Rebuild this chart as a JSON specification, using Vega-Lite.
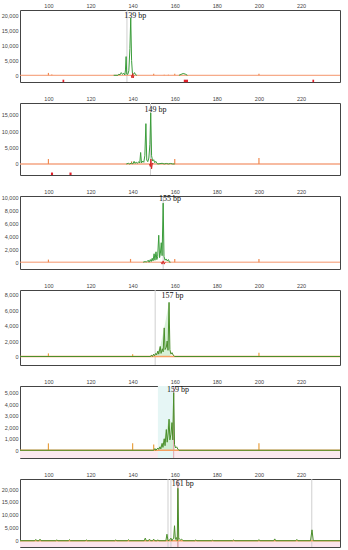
{
"$schema": "https://vega.github.io/schema/vega-lite/v6.json",
"background": "white",
"padding": {"top": 2, "left": 0, "right": 2, "bottom": 2},
"spacing": 12,
"datasets": {
"trace": [
{"p":1,"s":1,"x":131,"y":0},{"p":1,"s":1,"x":133,"y":0},{"p":1,"s":1,"x":133.5,"y":400},{"p":1,"s":1,"x":134,"y":150},{"p":1,"s":1,"x":134.6,"y":900},{"p":1,"s":1,"x":135.2,"y":300},{"p":1,"s":1,"x":135.8,"y":700},{"p":1,"s":1,"x":136.3,"y":100},{"p":1,"s":1,"x":136.6,"y":1800},{"p":1,"s":1,"x":136.9,"y":6300},{"p":1,"s":1,"x":137.2,"y":400},{"p":1,"s":1,"x":137.7,"y":300},{"p":1,"s":1,"x":138.2,"y":1500},{"p":1,"s":1,"x":138.7,"y":9000},{"p":1,"s":1,"x":139.1,"y":19300},{"p":1,"s":1,"x":139.5,"y":5000},{"p":1,"s":1,"x":139.9,"y":700},{"p":1,"s":1,"x":140.4,"y":300},{"p":1,"s":1,"x":140.9,"y":900},{"p":1,"s":1,"x":141.4,"y":200},{"p":1,"s":1,"x":142,"y":0},
{"p":1,"s":2,"x":162,"y":0},{"p":1,"s":2,"x":163,"y":300},{"p":1,"s":2,"x":164,"y":600},{"p":1,"s":2,"x":165,"y":400},{"p":1,"s":2,"x":166,"y":0},
{"p":2,"x":137,"y":0},{"p":2,"x":138,"y":200},{"p":2,"x":138.5,"y":0},{"p":2,"x":139.6,"y":300},{"p":2,"x":140.1,"y":0},{"p":2,"x":140.7,"y":800},{"p":2,"x":141.1,"y":200},{"p":2,"x":141.7,"y":500},{"p":2,"x":142.3,"y":200},{"p":2,"x":142.9,"y":700},{"p":2,"x":143.4,"y":300},{"p":2,"x":143.8,"y":3500},{"p":2,"x":144.2,"y":300},{"p":2,"x":144.8,"y":900},{"p":2,"x":145.3,"y":500},{"p":2,"x":145.8,"y":2500},{"p":2,"x":146.3,"y":12300},{"p":2,"x":146.7,"y":1200},{"p":2,"x":147.2,"y":700},{"p":2,"x":147.7,"y":1800},{"p":2,"x":148.2,"y":6000},{"p":2,"x":148.6,"y":15600},{"p":2,"x":149.0,"y":2500},{"p":2,"x":149.5,"y":900},{"p":2,"x":150.0,"y":1300},{"p":2,"x":150.5,"y":400},{"p":2,"x":151.0,"y":800},{"p":2,"x":151.5,"y":200},{"p":2,"x":152,"y":0},{"p":2,"x":154,"y":200},{"p":2,"x":155,"y":0},{"p":2,"x":156,"y":150},{"p":2,"x":157,"y":0},{"p":2,"x":158,"y":150},{"p":2,"x":159,"y":0},{"p":2,"x":160,"y":0},
{"p":3,"x":145,"y":0},{"p":3,"x":146,"y":100},{"p":3,"x":146.5,"y":0},{"p":3,"x":147.4,"y":300},{"p":3,"x":147.8,"y":0},{"p":3,"x":148.4,"y":400},{"p":3,"x":148.8,"y":100},{"p":3,"x":149.3,"y":600},{"p":3,"x":149.7,"y":200},{"p":3,"x":150.2,"y":1300},{"p":3,"x":150.6,"y":300},{"p":3,"x":151.1,"y":1600},{"p":3,"x":151.5,"y":400},{"p":3,"x":151.9,"y":900},{"p":3,"x":152.4,"y":4150},{"p":3,"x":152.8,"y":700},{"p":3,"x":153.2,"y":1400},{"p":3,"x":153.6,"y":3000},{"p":3,"x":154.0,"y":1000},{"p":3,"x":154.5,"y":9100},{"p":3,"x":154.9,"y":900},{"p":3,"x":155.4,"y":300},{"p":3,"x":155.9,"y":500},{"p":3,"x":156.4,"y":200},{"p":3,"x":157.0,"y":400},{"p":3,"x":157.5,"y":0},{"p":3,"x":158,"y":0},
{"p":4,"x":86.5,"y":0},{"p":4,"x":148.5,"y":0},{"p":4,"x":149,"y":200},{"p":4,"x":149.4,"y":0},{"p":4,"x":150,"y":300},{"p":4,"x":150.4,"y":100},{"p":4,"x":151,"y":400},{"p":4,"x":151.4,"y":200},{"p":4,"x":152,"y":700},{"p":4,"x":152.4,"y":300},{"p":4,"x":153.1,"y":1300},{"p":4,"x":153.5,"y":400},{"p":4,"x":154.1,"y":1000},{"p":4,"x":154.5,"y":600},{"p":4,"x":155,"y":3700},{"p":4,"x":155.4,"y":900},{"p":4,"x":156,"y":1200},{"p":4,"x":156.4,"y":2000},{"p":4,"x":156.8,"y":800},{"p":4,"x":157.3,"y":7000},{"p":4,"x":157.7,"y":900},{"p":4,"x":158.2,"y":300},{"p":4,"x":158.7,"y":500},{"p":4,"x":159.2,"y":200},{"p":4,"x":160,"y":0},{"p":4,"x":238.5,"y":0},
{"p":5,"x":86.5,"y":0},{"p":5,"x":150,"y":0},{"p":5,"x":150.6,"y":150},{"p":5,"x":151,"y":0},{"p":5,"x":152,"y":200},{"p":5,"x":152.4,"y":80},{"p":5,"x":153,"y":300},{"p":5,"x":153.4,"y":120},{"p":5,"x":154,"y":600},{"p":5,"x":154.4,"y":250},{"p":5,"x":155,"y":1000},{"p":5,"x":155.4,"y":400},{"p":5,"x":156,"y":1800},{"p":5,"x":156.4,"y":700},{"p":5,"x":156.9,"y":1500},{"p":5,"x":157.3,"y":2700},{"p":5,"x":157.7,"y":900},{"p":5,"x":158.2,"y":1400},{"p":5,"x":158.7,"y":2400},{"p":5,"x":159.1,"y":900},{"p":5,"x":159.5,"y":5000},{"p":5,"x":159.9,"y":500},{"p":5,"x":160.4,"y":200},{"p":5,"x":160.9,"y":300},{"p":5,"x":161.5,"y":100},{"p":5,"x":162,"y":0},{"p":5,"x":238.5,"y":0},
{"p":6,"x":86.5,"y":0},{"p":6,"x":93.5,"y":0},{"p":6,"x":94,"y":500},{"p":6,"x":94.5,"y":0},{"p":6,"x":95.5,"y":0},{"p":6,"x":96,"y":600},{"p":6,"x":96.5,"y":0},{"p":6,"x":103.5,"y":0},{"p":6,"x":104,"y":300},{"p":6,"x":104.5,"y":0},{"p":6,"x":109.5,"y":0},{"p":6,"x":110,"y":400},{"p":6,"x":110.5,"y":0},{"p":6,"x":117.5,"y":0},{"p":6,"x":118,"y":300},{"p":6,"x":118.5,"y":0},{"p":6,"x":131.5,"y":0},{"p":6,"x":132,"y":300},{"p":6,"x":132.5,"y":0},{"p":6,"x":137.5,"y":0},{"p":6,"x":138,"y":400},{"p":6,"x":138.5,"y":0},{"p":6,"x":145.5,"y":0},{"p":6,"x":146,"y":1000},{"p":6,"x":146.5,"y":0},{"p":6,"x":147.5,"y":0},{"p":6,"x":148,"y":600},{"p":6,"x":148.5,"y":0},{"p":6,"x":149.5,"y":0},{"p":6,"x":150,"y":600},{"p":6,"x":150.5,"y":0},{"p":6,"x":151.5,"y":0},{"p":6,"x":152,"y":300},{"p":6,"x":152.5,"y":0},{"p":6,"x":155.8,"y":0},{"p":6,"x":156.3,"y":2500},{"p":6,"x":156.8,"y":0},{"p":6,"x":157.5,"y":200},{"p":6,"x":158.2,"y":1000},{"p":6,"x":158.6,"y":0},{"p":6,"x":159.5,"y":1000},{"p":6,"x":159.9,"y":5800},{"p":6,"x":160.3,"y":500},{"p":6,"x":160.8,"y":1200},{"p":6,"x":161.2,"y":0},{"p":6,"x":161.5,"y":20300},{"p":6,"x":161.9,"y":500},{"p":6,"x":162.3,"y":700},{"p":6,"x":162.8,"y":300},{"p":6,"x":163.3,"y":600},{"p":6,"x":164,"y":0},{"p":6,"x":169.5,"y":0},{"p":6,"x":170,"y":300},{"p":6,"x":170.5,"y":0},{"p":6,"x":177.5,"y":0},{"p":6,"x":178,"y":200},{"p":6,"x":178.5,"y":0},{"p":6,"x":187.5,"y":0},{"p":6,"x":188,"y":300},{"p":6,"x":188.5,"y":0},{"p":6,"x":199.5,"y":0},{"p":6,"x":200,"y":400},{"p":6,"x":200.5,"y":0},{"p":6,"x":207,"y":0},{"p":6,"x":207.5,"y":700},{"p":6,"x":208,"y":0},{"p":6,"x":217.5,"y":0},{"p":6,"x":218,"y":500},{"p":6,"x":218.5,"y":0},{"p":6,"x":224.5,"y":0},{"p":6,"x":225.2,"y":4200},{"p":6,"x":225.8,"y":0},{"p":6,"x":238.5,"y":0}
],
"envelope": [
{"p":4,"x":150.3,"y":0},{"p":4,"x":151,"y":400},{"p":4,"x":152,"y":700},{"p":4,"x":153.1,"y":1300},{"p":4,"x":155,"y":3700},{"p":4,"x":157.3,"y":7000},{"p":4,"x":157.8,"y":0},
{"p":5,"x":151.5,"y":0},{"p":5,"x":154,"y":600},{"p":5,"x":155,"y":1000},{"p":5,"x":156,"y":1800},{"p":5,"x":157.3,"y":2700},{"p":5,"x":158.7,"y":2400},{"p":5,"x":159.5,"y":5000},{"p":5,"x":160,"y":0}
],
"std": [
{"p":1,"x":100,"y":800,"b":0},{"p":1,"x":101.6,"y":300,"b":0},{"p":1,"x":150,"y":500,"b":0},{"p":1,"x":155,"y":200,"b":0},{"p":1,"x":157,"y":200,"b":0},{"p":1,"x":160,"y":500,"b":0},{"p":1,"x":200,"y":500,"b":0},
{"p":2,"x":100,"y":1500,"b":0},{"p":2,"x":139.5,"y":800,"b":0},{"p":2,"x":160,"y":1500,"b":0},{"p":2,"x":200,"y":1800,"b":0},
{"p":3,"x":100,"y":400,"b":0},{"p":3,"x":139,"y":500,"b":0},{"p":3,"x":160,"y":500,"b":0},{"p":3,"x":200,"y":500,"b":0},
{"p":4,"x":100,"y":400,"b":0},{"p":4,"x":140,"y":300,"b":0},{"p":4,"x":200,"y":500,"b":0},
{"p":5,"x":100,"y":600,"b":0},{"p":5,"x":140,"y":600,"b":0},{"p":5,"x":150,"y":500,"b":0},{"p":5,"x":200,"y":600,"b":0}
],
"base": [
{"p":1,"y":0},{"p":2,"y":0},{"p":3,"y":0},{"p":4,"y":0},{"p":5,"y":0},{"p":6,"y":0}
],
"below": [
{"p":5,"y":0,"y2":-5000},{"p":6,"y":0,"y2":-10000}
],
"redmarks": [
{"p":1,"x":106.7,"x2":107.5,"y":-1900},{"p":1,"x":164.3,"x2":166.3,"y":-1900},{"p":1,"x":225.4,"x2":226.2,"y":-1900},
{"p":2,"x":101.2,"x2":102.2,"y":-3000},{"p":2,"x":110,"x2":111,"y":-3000}
],
"redtrace": [
{"p":1,"x":139.4,"y":0},{"p":1,"x":139.7,"y":-900},{"p":1,"x":140.0,"y":600},{"p":1,"x":140.3,"y":-900},{"p":1,"x":140.6,"y":0},
{"p":2,"x":148,"y":0},{"p":2,"x":148.4,"y":-800},{"p":2,"x":148.7,"y":1500},{"p":2,"x":149.0,"y":-1500},{"p":2,"x":149.4,"y":300},{"p":2,"x":149.8,"y":0},
{"p":3,"x":153.5,"y":0},{"p":3,"x":154,"y":-300},{"p":3,"x":154.5,"y":200},{"p":3,"x":155,"y":-300},{"p":3,"x":155.5,"y":0}
],
"vlines": [
{"p":1,"k":"g","x":137.3},{"p":2,"k":"g","x":148.5},{"p":3,"k":"g","x":154.5},{"p":4,"k":"g","x":150.7},
{"p":5,"k":"r","x":159.5},{"p":6,"k":"g","x":156.8},{"p":6,"k":"g","x":158.2},{"p":6,"k":"g","x":225.1},{"p":6,"k":"r","x":161.5}
],
"bands": [
{"p":5,"x":152,"x2":160}
],
"labels": [
{"p":1,"x":141.3,"y":20000,"t":"139 bp"},{"p":2,"x":150.9,"y":16530,"t":"149 bp"},{"p":3,"x":157.7,"y":9780,"t":"155 bp"},
{"p":4,"x":158.9,"y":7870,"t":"157 bp"},{"p":5,"x":161.5,"y":5200,"t":"159 bp"},{"p":6,"x":163.8,"y":21900,"t":"161 bp"}
]
},
"vconcat": [
{"width": 320, "height": 72, "layer": [
 {"data":{"name":"vlines"},"transform":[{"filter":"datum.p == 1 && datum.k == 'g'"}],"mark":{"type":"rule","color":"#cfcfcf","strokeWidth":1},"encoding":{"x":{"field":"x","type":"quantitative","scale":{"domain":[86.5,238.5],"nice":false,"zero":false},"axis":{"orient":"top","values":[100,120,140,160,180,200,220],"title":null,"labelFlush":false,"labelOverlap":false}}}},
 {"data":{"name":"base"},"transform":[{"filter":"datum.p == 1"}],"mark":{"type":"rule","color":"#f4956a","strokeWidth":1},"encoding":{"y":{"field":"y","type":"quantitative","scale":{"domain":[-2260,22000],"nice":false,"zero":false},"axis":{"values":[0,5000,10000,15000,20000],"format":",d","title":null,"labelOverlap":false}}}},
 {"data":{"name":"std"},"transform":[{"filter":"datum.p == 1"}],"mark":{"type":"rule","color":"#f08a50","strokeWidth":1.2,"clip":true},"encoding":{"x":{"field":"x","type":"quantitative","scale":{"domain":[86.5,238.5],"nice":false,"zero":false},"axis":{"orient":"top","values":[100,120,140,160,180,200,220],"title":null,"labelFlush":false,"labelOverlap":false}},"y":{"field":"y","type":"quantitative","scale":{"domain":[-2260,22000],"nice":false,"zero":false},"axis":{"values":[0,5000,10000,15000,20000],"format":",d","title":null,"labelOverlap":false}},"y2":{"field":"b"}}},
 {"data":{"name":"trace"},"transform":[{"filter":"datum.p == 1"}],"mark":{"type":"line","color":"#3a9d3a","strokeWidth":1,"clip":true},"encoding":{"x":{"field":"x","type":"quantitative","scale":{"domain":[86.5,238.5],"nice":false,"zero":false},"axis":{"orient":"top","values":[100,120,140,160,180,200,220],"title":null,"labelFlush":false,"labelOverlap":false}},"y":{"field":"y","type":"quantitative","scale":{"domain":[-2260,22000],"nice":false,"zero":false},"axis":{"values":[0,5000,10000,15000,20000],"format":",d","title":null,"labelOverlap":false}},"detail":{"field":"s"}}},
 {"data":{"name":"redtrace"},"transform":[{"filter":"datum.p == 1"}],"mark":{"type":"line","color":"#d62828","strokeWidth":1,"clip":true},"encoding":{"x":{"field":"x","type":"quantitative","scale":{"domain":[86.5,238.5],"nice":false,"zero":false},"axis":{"orient":"top","values":[100,120,140,160,180,200,220],"title":null,"labelFlush":false,"labelOverlap":false}},"y":{"field":"y","type":"quantitative","scale":{"domain":[-2260,22000],"nice":false,"zero":false},"axis":{"values":[0,5000,10000,15000,20000],"format":",d","title":null,"labelOverlap":false}}}},
 {"data":{"name":"redmarks"},"transform":[{"filter":"datum.p == 1"}],"mark":{"type":"rule","color":"#e0202a","strokeWidth":2.5},"encoding":{"x":{"field":"x","type":"quantitative","scale":{"domain":[86.5,238.5],"nice":false,"zero":false},"axis":{"orient":"top","values":[100,120,140,160,180,200,220],"title":null,"labelFlush":false,"labelOverlap":false}},"x2":{"field":"x2"},"y":{"field":"y","type":"quantitative","scale":{"domain":[-2260,22000],"nice":false,"zero":false},"axis":{"values":[0,5000,10000,15000,20000],"format":",d","title":null,"labelOverlap":false}}}},
 {"data":{"name":"labels"},"transform":[{"filter":"datum.p == 1"}],"mark":{"type":"text","font":"Liberation Serif","fontSize":8,"color":"#111","align":"center","baseline":"middle"},"encoding":{"x":{"field":"x","type":"quantitative","scale":{"domain":[86.5,238.5],"nice":false,"zero":false},"axis":{"orient":"top","values":[100,120,140,160,180,200,220],"title":null,"labelFlush":false,"labelOverlap":false}},"y":{"field":"y","type":"quantitative","scale":{"domain":[-2260,22000],"nice":false,"zero":false},"axis":{"values":[0,5000,10000,15000,20000],"format":",d","title":null,"labelOverlap":false}},"text":{"field":"t"}}}
]},
{"width": 320, "height": 72, "layer": [
 {"data":{"name":"vlines"},"transform":[{"filter":"datum.p == 2 && datum.k == 'g'"}],"mark":{"type":"rule","color":"#cfcfcf","strokeWidth":1},"encoding":{"x":{"field":"x","type":"quantitative","scale":{"domain":[86.5,238.5],"nice":false,"zero":false},"axis":{"orient":"top","values":[100,120,140,160,180,200,220],"title":null,"labelFlush":false,"labelOverlap":false}}}},
 {"data":{"name":"base"},"transform":[{"filter":"datum.p == 2"}],"mark":{"type":"rule","color":"#f4a582","strokeWidth":1.5},"encoding":{"y":{"field":"y","type":"quantitative","scale":{"domain":[-3370,18600],"nice":false,"zero":false},"axis":{"values":[0,5000,10000,15000],"format":",d","title":null,"labelOverlap":false}}}},
 {"data":{"name":"std"},"transform":[{"filter":"datum.p == 2"}],"mark":{"type":"rule","color":"#f08a50","strokeWidth":1.2,"clip":true},"encoding":{"x":{"field":"x","type":"quantitative","scale":{"domain":[86.5,238.5],"nice":false,"zero":false},"axis":{"orient":"top","values":[100,120,140,160,180,200,220],"title":null,"labelFlush":false,"labelOverlap":false}},"y":{"field":"y","type":"quantitative","scale":{"domain":[-3370,18600],"nice":false,"zero":false},"axis":{"values":[0,5000,10000,15000],"format":",d","title":null,"labelOverlap":false}},"y2":{"field":"b"}}},
 {"data":{"name":"trace"},"transform":[{"filter":"datum.p == 2"}],"mark":{"type":"line","color":"#3a9d3a","strokeWidth":1,"clip":true},"encoding":{"x":{"field":"x","type":"quantitative","scale":{"domain":[86.5,238.5],"nice":false,"zero":false},"axis":{"orient":"top","values":[100,120,140,160,180,200,220],"title":null,"labelFlush":false,"labelOverlap":false}},"y":{"field":"y","type":"quantitative","scale":{"domain":[-3370,18600],"nice":false,"zero":false},"axis":{"values":[0,5000,10000,15000],"format":",d","title":null,"labelOverlap":false}}}},
 {"data":{"name":"redtrace"},"transform":[{"filter":"datum.p == 2"}],"mark":{"type":"line","color":"#d62828","strokeWidth":1,"clip":true},"encoding":{"x":{"field":"x","type":"quantitative","scale":{"domain":[86.5,238.5],"nice":false,"zero":false},"axis":{"orient":"top","values":[100,120,140,160,180,200,220],"title":null,"labelFlush":false,"labelOverlap":false}},"y":{"field":"y","type":"quantitative","scale":{"domain":[-3370,18600],"nice":false,"zero":false},"axis":{"values":[0,5000,10000,15000],"format":",d","title":null,"labelOverlap":false}}}},
 {"data":{"name":"redmarks"},"transform":[{"filter":"datum.p == 2"}],"mark":{"type":"rule","color":"#e0202a","strokeWidth":2.5},"encoding":{"x":{"field":"x","type":"quantitative","scale":{"domain":[86.5,238.5],"nice":false,"zero":false},"axis":{"orient":"top","values":[100,120,140,160,180,200,220],"title":null,"labelFlush":false,"labelOverlap":false}},"x2":{"field":"x2"},"y":{"field":"y","type":"quantitative","scale":{"domain":[-3370,18600],"nice":false,"zero":false},"axis":{"values":[0,5000,10000,15000],"format":",d","title":null,"labelOverlap":false}}}},
 {"data":{"name":"labels"},"transform":[{"filter":"datum.p == 2"}],"mark":{"type":"text","font":"Liberation Serif","fontSize":8,"color":"#111","align":"center","baseline":"middle"},"encoding":{"x":{"field":"x","type":"quantitative","scale":{"domain":[86.5,238.5],"nice":false,"zero":false},"axis":{"orient":"top","values":[100,120,140,160,180,200,220],"title":null,"labelFlush":false,"labelOverlap":false}},"y":{"field":"y","type":"quantitative","scale":{"domain":[-3370,18600],"nice":false,"zero":false},"axis":{"values":[0,5000,10000,15000],"format":",d","title":null,"labelOverlap":false}},"text":{"field":"t"}}}
]},
{"width": 320, "height": 73, "layer": [
 {"data":{"name":"vlines"},"transform":[{"filter":"datum.p == 3 && datum.k == 'g'"}],"mark":{"type":"rule","color":"#cfcfcf","strokeWidth":1},"encoding":{"x":{"field":"x","type":"quantitative","scale":{"domain":[86.5,238.5],"nice":false,"zero":false},"axis":{"orient":"top","values":[100,120,140,160,180,200,220],"title":null,"labelFlush":false,"labelOverlap":false}}}},
 {"data":{"name":"base"},"transform":[{"filter":"datum.p == 3"}],"mark":{"type":"rule","color":"#f4956a","strokeWidth":1},"encoding":{"y":{"field":"y","type":"quantitative","scale":{"domain":[-1050,10200],"nice":false,"zero":false},"axis":{"values":[0,2000,4000,6000,8000,10000],"format":",d","title":null,"labelOverlap":false}}}},
 {"data":{"name":"std"},"transform":[{"filter":"datum.p == 3"}],"mark":{"type":"rule","color":"#f08a50","strokeWidth":1.2,"clip":true},"encoding":{"x":{"field":"x","type":"quantitative","scale":{"domain":[86.5,238.5],"nice":false,"zero":false},"axis":{"orient":"top","values":[100,120,140,160,180,200,220],"title":null,"labelFlush":false,"labelOverlap":false}},"y":{"field":"y","type":"quantitative","scale":{"domain":[-1050,10200],"nice":false,"zero":false},"axis":{"values":[0,2000,4000,6000,8000,10000],"format":",d","title":null,"labelOverlap":false}},"y2":{"field":"b"}}},
 {"data":{"name":"trace"},"transform":[{"filter":"datum.p == 3"}],"mark":{"type":"line","color":"#3a9d3a","strokeWidth":1,"clip":true},"encoding":{"x":{"field":"x","type":"quantitative","scale":{"domain":[86.5,238.5],"nice":false,"zero":false},"axis":{"orient":"top","values":[100,120,140,160,180,200,220],"title":null,"labelFlush":false,"labelOverlap":false}},"y":{"field":"y","type":"quantitative","scale":{"domain":[-1050,10200],"nice":false,"zero":false},"axis":{"values":[0,2000,4000,6000,8000,10000],"format":",d","title":null,"labelOverlap":false}}}},
 {"data":{"name":"redtrace"},"transform":[{"filter":"datum.p == 3"}],"mark":{"type":"line","color":"#d62828","strokeWidth":1,"clip":true},"encoding":{"x":{"field":"x","type":"quantitative","scale":{"domain":[86.5,238.5],"nice":false,"zero":false},"axis":{"orient":"top","values":[100,120,140,160,180,200,220],"title":null,"labelFlush":false,"labelOverlap":false}},"y":{"field":"y","type":"quantitative","scale":{"domain":[-1050,10200],"nice":false,"zero":false},"axis":{"values":[0,2000,4000,6000,8000,10000],"format":",d","title":null,"labelOverlap":false}}}},
 {"data":{"name":"labels"},"transform":[{"filter":"datum.p == 3"}],"mark":{"type":"text","font":"Liberation Serif","fontSize":8,"color":"#111","align":"center","baseline":"middle"},"encoding":{"x":{"field":"x","type":"quantitative","scale":{"domain":[86.5,238.5],"nice":false,"zero":false},"axis":{"orient":"top","values":[100,120,140,160,180,200,220],"title":null,"labelFlush":false,"labelOverlap":false}},"y":{"field":"y","type":"quantitative","scale":{"domain":[-1050,10200],"nice":false,"zero":false},"axis":{"values":[0,2000,4000,6000,8000,10000],"format":",d","title":null,"labelOverlap":false}},"text":{"field":"t"}}}
]},
{"width": 320, "height": 75, "layer": [
 {"data":{"name":"envelope"},"transform":[{"filter":"datum.p == 4"}],"mark":{"type":"area","color":"#cdeccd","opacity":0.8,"clip":true},"encoding":{"x":{"field":"x","type":"quantitative","scale":{"domain":[86.5,238.5],"nice":false,"zero":false},"axis":{"orient":"top","values":[100,120,140,160,180,200,220],"title":null,"labelFlush":false,"labelOverlap":false}},"y":{"field":"y","type":"quantitative","scale":{"domain":[-1100,8600],"nice":false,"zero":false},"axis":{"values":[0,2000,4000,6000,8000],"format":",d","title":null,"labelOverlap":false}}}},
 {"data":{"name":"vlines"},"transform":[{"filter":"datum.p == 4 && datum.k == 'g'"}],"mark":{"type":"rule","color":"#cfcfcf","strokeWidth":1},"encoding":{"x":{"field":"x","type":"quantitative","scale":{"domain":[86.5,238.5],"nice":false,"zero":false},"axis":{"orient":"top","values":[100,120,140,160,180,200,220],"title":null,"labelFlush":false,"labelOverlap":false}}}},
 {"data":{"name":"base"},"transform":[{"filter":"datum.p == 4"}],"mark":{"type":"rule","color":"#f4a060","strokeWidth":1.5},"encoding":{"y":{"field":"y","type":"quantitative","scale":{"domain":[-1100,8600],"nice":false,"zero":false},"axis":{"values":[0,2000,4000,6000,8000],"format":",d","title":null,"labelOverlap":false}}}},
 {"data":{"name":"std"},"transform":[{"filter":"datum.p == 4"}],"mark":{"type":"rule","color":"#e8a040","strokeWidth":1.2,"clip":true},"encoding":{"x":{"field":"x","type":"quantitative","scale":{"domain":[86.5,238.5],"nice":false,"zero":false},"axis":{"orient":"top","values":[100,120,140,160,180,200,220],"title":null,"labelFlush":false,"labelOverlap":false}},"y":{"field":"y","type":"quantitative","scale":{"domain":[-1100,8600],"nice":false,"zero":false},"axis":{"values":[0,2000,4000,6000,8000],"format":",d","title":null,"labelOverlap":false}},"y2":{"field":"b"}}},
 {"data":{"name":"trace"},"transform":[{"filter":"datum.p == 4"}],"mark":{"type":"line","color":"#4a8f2a","strokeWidth":1,"clip":true},"encoding":{"x":{"field":"x","type":"quantitative","scale":{"domain":[86.5,238.5],"nice":false,"zero":false},"axis":{"orient":"top","values":[100,120,140,160,180,200,220],"title":null,"labelFlush":false,"labelOverlap":false}},"y":{"field":"y","type":"quantitative","scale":{"domain":[-1100,8600],"nice":false,"zero":false},"axis":{"values":[0,2000,4000,6000,8000],"format":",d","title":null,"labelOverlap":false}}}},
 {"data":{"name":"labels"},"transform":[{"filter":"datum.p == 4"}],"mark":{"type":"text","font":"Liberation Serif","fontSize":8,"color":"#111","align":"center","baseline":"middle"},"encoding":{"x":{"field":"x","type":"quantitative","scale":{"domain":[86.5,238.5],"nice":false,"zero":false},"axis":{"orient":"top","values":[100,120,140,160,180,200,220],"title":null,"labelFlush":false,"labelOverlap":false}},"y":{"field":"y","type":"quantitative","scale":{"domain":[-1100,8600],"nice":false,"zero":false},"axis":{"values":[0,2000,4000,6000,8000],"format":",d","title":null,"labelOverlap":false}},"text":{"field":"t"}}}
]},
{"width": 320, "height": 72, "layer": [
 {"data":{"name":"below"},"transform":[{"filter":"datum.p == 5"}],"mark":{"type":"rect","color":"#fbe9ef","clip":true},"encoding":{"y":{"field":"y","type":"quantitative","scale":{"domain":[-670,5580],"nice":false,"zero":false},"axis":{"values":[0,1000,2000,3000,4000,5000],"format":",d","title":null,"labelOverlap":false}},"y2":{"field":"y2"}}},
 {"data":{"name":"bands"},"transform":[{"filter":"datum.p == 5"}],"mark":{"type":"rect","color":"#e6f6f5"},"encoding":{"x":{"field":"x","type":"quantitative","scale":{"domain":[86.5,238.5],"nice":false,"zero":false},"axis":{"orient":"top","values":[100,120,140,160,180,200,220],"title":null,"labelFlush":false,"labelOverlap":false}},"x2":{"field":"x2"}}},
 {"data":{"name":"envelope"},"transform":[{"filter":"datum.p == 5"}],"mark":{"type":"area","color":"#cdeccd","opacity":0.8,"clip":true},"encoding":{"x":{"field":"x","type":"quantitative","scale":{"domain":[86.5,238.5],"nice":false,"zero":false},"axis":{"orient":"top","values":[100,120,140,160,180,200,220],"title":null,"labelFlush":false,"labelOverlap":false}},"y":{"field":"y","type":"quantitative","scale":{"domain":[-670,5580],"nice":false,"zero":false},"axis":{"values":[0,1000,2000,3000,4000,5000],"format":",d","title":null,"labelOverlap":false}}}},
 {"data":{"name":"vlines"},"transform":[{"filter":"datum.p == 5 && datum.k == 'r'"}],"mark":{"type":"rule","color":"#eaa0ac","strokeWidth":1},"encoding":{"x":{"field":"x","type":"quantitative","scale":{"domain":[86.5,238.5],"nice":false,"zero":false},"axis":{"orient":"top","values":[100,120,140,160,180,200,220],"title":null,"labelFlush":false,"labelOverlap":false}}}},
 {"data":{"name":"base"},"transform":[{"filter":"datum.p == 5"}],"mark":{"type":"rule","color":"#f4a060","strokeWidth":1.5},"encoding":{"y":{"field":"y","type":"quantitative","scale":{"domain":[-670,5580],"nice":false,"zero":false},"axis":{"values":[0,1000,2000,3000,4000,5000],"format":",d","title":null,"labelOverlap":false}}}},
 {"data":{"name":"std"},"transform":[{"filter":"datum.p == 5"}],"mark":{"type":"rule","color":"#e8a040","strokeWidth":1.2,"clip":true},"encoding":{"x":{"field":"x","type":"quantitative","scale":{"domain":[86.5,238.5],"nice":false,"zero":false},"axis":{"orient":"top","values":[100,120,140,160,180,200,220],"title":null,"labelFlush":false,"labelOverlap":false}},"y":{"field":"y","type":"quantitative","scale":{"domain":[-670,5580],"nice":false,"zero":false},"axis":{"values":[0,1000,2000,3000,4000,5000],"format":",d","title":null,"labelOverlap":false}},"y2":{"field":"b"}}},
 {"data":{"name":"trace"},"transform":[{"filter":"datum.p == 5"}],"mark":{"type":"line","color":"#4a8f2a","strokeWidth":1,"clip":true},"encoding":{"x":{"field":"x","type":"quantitative","scale":{"domain":[86.5,238.5],"nice":false,"zero":false},"axis":{"orient":"top","values":[100,120,140,160,180,200,220],"title":null,"labelFlush":false,"labelOverlap":false}},"y":{"field":"y","type":"quantitative","scale":{"domain":[-670,5580],"nice":false,"zero":false},"axis":{"values":[0,1000,2000,3000,4000,5000],"format":",d","title":null,"labelOverlap":false}}}},
 {"data":{"name":"labels"},"transform":[{"filter":"datum.p == 5"}],"mark":{"type":"text","font":"Liberation Serif","fontSize":8,"color":"#111","align":"center","baseline":"middle"},"encoding":{"x":{"field":"x","type":"quantitative","scale":{"domain":[86.5,238.5],"nice":false,"zero":false},"axis":{"orient":"top","values":[100,120,140,160,180,200,220],"title":null,"labelFlush":false,"labelOverlap":false}},"y":{"field":"y","type":"quantitative","scale":{"domain":[-670,5580],"nice":false,"zero":false},"axis":{"values":[0,1000,2000,3000,4000,5000],"format":",d","title":null,"labelOverlap":false}},"text":{"field":"t"}}}
]},
{"width": 320, "height": 68, "layer": [
 {"data":{"name":"below"},"transform":[{"filter":"datum.p == 6"}],"mark":{"type":"rect","color":"#fbe4ec","clip":true},"encoding":{"y":{"field":"y","type":"quantitative","scale":{"domain":[-2440,23900],"nice":false,"zero":false},"axis":{"values":[0,5000,10000,15000,20000],"format":",d","title":null,"labelOverlap":false}},"y2":{"field":"y2"}}},
 {"data":{"name":"vlines"},"transform":[{"filter":"datum.p == 6 && datum.k == 'g'"}],"mark":{"type":"rule","color":"#cfcfcf","strokeWidth":1},"encoding":{"x":{"field":"x","type":"quantitative","scale":{"domain":[86.5,238.5],"nice":false,"zero":false},"axis":{"orient":"top","values":[100,120,140,160,180,200,220],"title":null,"labelFlush":false,"labelOverlap":false}}}},
 {"data":{"name":"vlines"},"transform":[{"filter":"datum.p == 6 && datum.k == 'r'"}],"mark":{"type":"rule","color":"#c08080","strokeWidth":1},"encoding":{"x":{"field":"x","type":"quantitative","scale":{"domain":[86.5,238.5],"nice":false,"zero":false},"axis":{"orient":"top","values":[100,120,140,160,180,200,220],"title":null,"labelFlush":false,"labelOverlap":false}}}},
 {"data":{"name":"base"},"transform":[{"filter":"datum.p == 6"}],"mark":{"type":"rule","color":"#f4a060","strokeWidth":1.5},"encoding":{"y":{"field":"y","type":"quantitative","scale":{"domain":[-2440,23900],"nice":false,"zero":false},"axis":{"values":[0,5000,10000,15000,20000],"format":",d","title":null,"labelOverlap":false}}}},
 {"data":{"name":"trace"},"transform":[{"filter":"datum.p == 6"}],"mark":{"type":"line","color":"#4a8f2a","strokeWidth":1,"clip":true},"encoding":{"x":{"field":"x","type":"quantitative","scale":{"domain":[86.5,238.5],"nice":false,"zero":false},"axis":{"orient":"top","values":[100,120,140,160,180,200,220],"title":null,"labelFlush":false,"labelOverlap":false}},"y":{"field":"y","type":"quantitative","scale":{"domain":[-2440,23900],"nice":false,"zero":false},"axis":{"values":[0,5000,10000,15000,20000],"format":",d","title":null,"labelOverlap":false}}}},
 {"data":{"name":"labels"},"transform":[{"filter":"datum.p == 6"}],"mark":{"type":"text","font":"Liberation Serif","fontSize":8,"color":"#111","align":"center","baseline":"middle"},"encoding":{"x":{"field":"x","type":"quantitative","scale":{"domain":[86.5,238.5],"nice":false,"zero":false},"axis":{"orient":"top","values":[100,120,140,160,180,200,220],"title":null,"labelFlush":false,"labelOverlap":false}},"y":{"field":"y","type":"quantitative","scale":{"domain":[-2440,23900],"nice":false,"zero":false},"axis":{"values":[0,5000,10000,15000,20000],"format":",d","title":null,"labelOverlap":false}},"text":{"field":"t"}}}
]}
],
"config": {
 "view": {"stroke": "#444", "strokeWidth": 1},
 "axis": {"grid": false, "ticks": false, "domain": false, "labelFontSize": 5.5, "labelColor": "#444", "labelFont": "Liberation Sans", "labelPadding": 2}
}
}
